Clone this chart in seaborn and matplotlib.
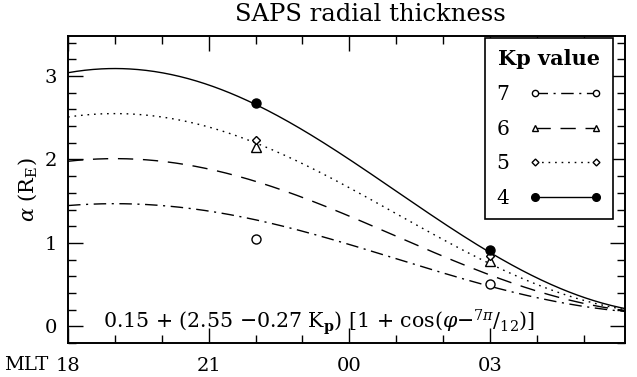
import numpy as np
import pandas as pd
import matplotlib
matplotlib.use("Agg")
import matplotlib.pyplot as plt
from matplotlib.lines import Line2D
from matplotlib.ticker import MultipleLocator, FixedLocator
import seaborn as sns

# ---- data ----
kp_values = [7, 6, 5, 4]
coef_a = 0.15          # printed model: 0.15 + (2.55 - 0.27 Kp)[1 + cos(phi - 7pi/12)]
coef_b = 2.55
coef_c = 0.27
phase = 7 * np.pi / 12
mlt_range = [18.0, 29.88]  # 18 MLT .. ~06 MLT (hours, continuous past midnight)

obs_mlt = [22, 22, 22, 22, 27, 27, 27, 27]
obs_kp = [4, 5, 6, 7, 4, 5, 6, 7]
obs_alpha = [2.68, 2.23, 2.15, 1.05, 0.91, 0.84, 0.78, 0.51]

tick_pos = [18, 21, 24, 27]
tick_labels = ["18", "21", "00", "03"]

# ---- build curves from the printed model ----
h = np.linspace(mlt_range[0], mlt_range[1], 400)
rows = []
for kp in kp_values:
    phi = np.deg2rad((h - 12) * 15)
    a = coef_a + (coef_b - coef_c * kp) * (1 + np.cos(phi - phase))
    rows.append(pd.DataFrame({"mlt": h, "alpha": a, "kp": kp}))
curves = pd.concat(rows)
obs = pd.DataFrame({"mlt": obs_mlt, "alpha": obs_alpha, "kp": obs_kp})

sns.set_theme(style="ticks")
plt.rcParams["font.family"] = ["DejaVu Serif"]
plt.rcParams["mathtext.fontset"] = "dejavuserif"
plt.rcParams["text.color"] = "black"
plt.rcParams["axes.labelcolor"] = "black"

fig = plt.figure(figsize=(6.37, 3.77), dpi=100)
ax = fig.add_axes([0.1068, 0.0902, 0.8744, 0.8143])

styles = {
    7: dict(ls=(0, (9, 4, 1.5, 4)), marker="o", fill=False, ms=6.5, lms=4.5),
    6: dict(ls=(0, (11, 7)), marker="^", fill=False, ms=6.5, lms=5),
    5: dict(ls=(0, (1.2, 3.5)), marker="D", fill=False, ms=4.5, lms=3.5),
    4: dict(ls="-", marker="o", fill=True, ms=6.5, lms=5.5),
}

for kp in kp_values:
    st = styles[kp]
    sns.lineplot(data=curves[curves.kp == kp], x="mlt", y="alpha", ax=ax,
                 color="black", lw=1.0, linestyle=st["ls"], legend=False)
    sub = obs[obs.kp == kp]
    ax.plot(sub.mlt, sub.alpha, linestyle="none", marker=st["marker"],
            ms=st["ms"], mec="black", mfc="black" if st["fill"] else "white",
            mew=1.0, zorder=5)

ax.set_xlim(*mlt_range)
ax.set_ylim(-0.2, 3.48)
ax.xaxis.set_major_locator(FixedLocator(tick_pos))
ax.set_xticklabels(tick_labels)
ax.xaxis.set_minor_locator(MultipleLocator(1))
ax.yaxis.set_major_locator(MultipleLocator(1))
ax.yaxis.set_minor_locator(MultipleLocator(0.2))
ax.tick_params(which="both", direction="in", top=True, right=True,
               colors="black", labelsize=14, width=1.0)
ax.tick_params(which="major", length=11, pad=8)
ax.tick_params(which="minor", length=6)
ax.tick_params(axis="x", which="major", pad=10)
for s in ax.spines.values():
    s.set_visible(True)
    s.set_linewidth(1.4)
    s.set_color("black")

ax.set_xlabel("")
ax.set_ylabel(r"$\alpha$ (R$_\mathrm{E}$)", fontsize=15, labelpad=4)
ax.set_title("SAPS radial thickness", fontsize=17.5, pad=11, x=0.542)

# "MLT" prefix to the left of the first tick label
fig.text(0.076, 0.033, "MLT", fontsize=14, ha="right", va="center")

ax.text(18.75, 0.05,
        r"0.15 + (2.55 $-$0.27 K$_\mathbf{p}$) [1 + cos($\varphi$$-$$^{7\pi}$/$_{12}$)]",
        fontsize=14.8, ha="left", va="center")

handles = []
for kp in kp_values:
    st = styles[kp]
    handles.append(Line2D([], [], color="black", lw=1.0, linestyle=st["ls"],
                          marker=st["marker"], ms=st["lms"], mec="black",
                          mfc="black" if st["fill"] else "white", mew=1.0))
leg = ax.legend(handles, [str(k) for k in kp_values], title="Kp value",
                loc="upper right", bbox_to_anchor=(0.978, 0.993),
                borderaxespad=0, numpoints=2, markerfirst=False,
                handlelength=3.6, fontsize=14.5, labelspacing=0.78,
                fancybox=False, frameon=True, borderpad=0.55,
                handletextpad=1.0)
leg.get_title().set_fontweight("bold")
leg.get_title().set_fontsize(15)
leg.get_frame().set_edgecolor("black")
leg.get_frame().set_linewidth(1.2)
leg.get_frame().set_alpha(1)

fig.savefig("out.png", dpi=100)
